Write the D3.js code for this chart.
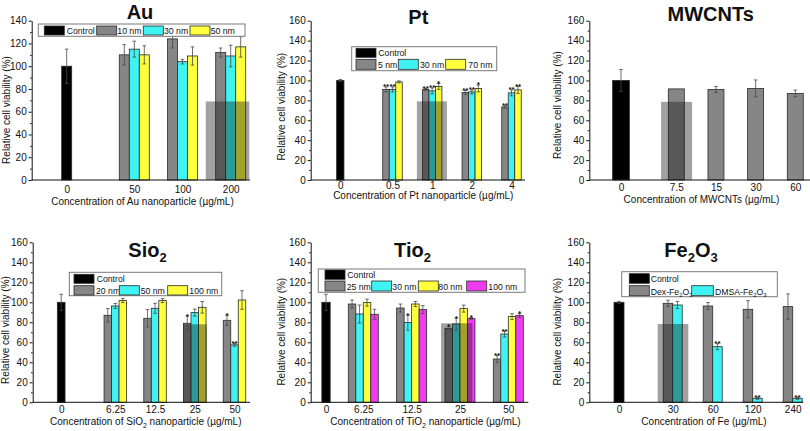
<!DOCTYPE html>
<html><head><meta charset="utf-8">
<script src="https://cdn.jsdelivr.net/npm/d3@7"></script>
<style>
body{margin:0;background:#fff}
svg{display:block}
text{font-family:"Liberation Sans",Arial,Helvetica,sans-serif;fill:#111}
</style>
</head><body>
<svg id="chart" width="810" height="431"></svg>
<script>
// ---------------- DATA ----------------
// Au
const auCategories = ["0", "50", "100", "200"];
const auSeriesNames = ["Control", "10 nm", "30 nm", "50 nm"];
const auControl = [100], auControlErr = [15];
const au10nm = [110, 124, 112], au10nmErr = [9, 8, 4];
const au30nm = [115, 104, 109], au30nmErr = [7, 2, 9.5];
const au50nm = [110, 109, 117], au50nmErr = [8, 8, 9];
const auHighlight = ["200", 69];

// Pt
const ptCategories = ["0", "0.5", "1", "2", "4"];
const ptSeriesNames = ["Control", "5 nm", "30 nm", "70 nm"];
const ptControl = [100], ptControlErr = [1];
const pt5nm = [91, 91, 88, 73.5], pt5nmErr = [2.5, 1, 2, 1.5], pt5nmSig = ["**", "**", "**", "**"];
const pt30nm = [91, 89.5, 88.5, 87.5], pt30nmErr = [2.5, 3, 2, 3], pt30nmSig = ["**", "**", "**", "**"];
const pt70nm = [98.5, 94, 92, 90.5], pt70nmErr = [1, 3, 3.5, 3.5], pt70nmSig = ["", "*", "*", "**"];
const ptHighlight = ["1", 79];

// MWCNTs
const mwCategories = ["0", "7.5", "15", "30", "60"];
const mwControl = [100], mwControlErr = [11];
const mwValues = [91.5, 91, 92, 87], mwErr = [0, 3, 8.5, 3.3];
const mwHighlight = ["7.5", 78.5];

// SiO2
const siCategories = ["0", "6.25", "12.5", "25", "50"];
const siSeriesNames = ["Control", "20 nm", "50 nm", "100 nm"];
const siControl = [100], siControlErr = [8];
const si20nm = [87, 84, 79, 82], si20nmErr = [6.7, 8.7, 7.3, 5], si20nmSig = ["", "", "*", "*"];
const si50nm = [96.3, 94, 89.7, 57.5], si50nmErr = [2.5, 5, 3.5, 1.5], si50nmSig = ["", "", "", "**"];
const si100nm = [101.7, 101.7, 95, 102.3], si100nmErr = [2, 2, 5.8, 9.3], si100nmSig = ["", "", "", ""];
const siHighlight = ["25", 78];

// TiO2
const tiCategories = ["0", "6.25", "12.5", "25", "50"];
const tiSeriesNames = ["Control", "25 nm", "30 nm", "80 nm", "100 nm"];
const tiControl = [100], tiControlErr = [8];
const ti25nm = [98.3, 94.3, 74, 43.3], ti25nmErr = [4, 4, 2, 3.3], ti25nmSig = ["", "", "*", "**"];
const ti30nm = [88.3, 79.7, 78.3, 68.3], ti30nmErr = [9, 7.5, 6, 3], ti30nmSig = ["", "*", "*", "**"];
const ti80nm = [99.7, 98.3, 93.7, 85.7], ti80nmErr = [3.5, 2.5, 3.5, 3], ti80nmSig = ["", "", "", ""];
const ti100nm = [88, 92.7, 83.7, 86.7], ti100nmErr = [5, 4, 1, 2], ti100nmSig = ["", "", "*", "*"];
const tiHighlight = ["25", 79];

// Fe2O3
const feCategories = ["0", "30", "60", "120", "240"];
const feControl = [100], feControlErr = [1];
const feDex = [99, 96.3, 93, 95.7], feDexErr = [3, 3.5, 8.7, 12.7], feDexSig = ["", "", "", ""];
const feDmsa = [97.3, 55.6, 4, 4], feDmsaErr = [3.5, 3, 1, 1], feDmsaSig = ["", "**", "**", "**"];
const feHighlight = ["30", 78.3];

const yTicks140 = [0, 20, 40, 60, 80, 100, 120, 140];
const yTicks160 = [0, 20, 40, 60, 80, 100, 120, 140, 160];

// ---------------- STYLE ----------------
const C = {control: "#000000", gray: "#868686", cyan: "#3ff3f3", yellow: "#ffff3c", magenta: "#f03cf0"};

const svg = d3.select("#chart");

function rich(sel, parts, subSize, shift) {
  let down = false;
  parts.forEach(p => {
    const isSub = Array.isArray(p);
    const t = sel.append("tspan").text(isSub ? p[0] : p);
    if (isSub) { t.attr("font-size", subSize).attr("dy", shift); down = true; }
    else if (down) { t.attr("dy", -shift); down = false; }
  });
}

function drawPanel(p) {
  const g = svg.append("g");
  const y = d3.scaleLinear().domain([0, p.yMax]).range([p.bottom, p.top]);
  const groups = p.categories.slice(1);
  const xg = d3.scalePoint().domain(groups).range([p.firstX, p.lastX]);
  const x = d3.scaleOrdinal().domain(p.categories).range([p.ctrlX, ...groups.map(d => xg(d))]);
  const xs = d3.scaleBand().domain(p.series.map(s => s.name))
    .range([-p.series.length * p.barW / 2, p.series.length * p.barW / 2]);

  // bars
  const barData = [];
  barData.push({cx: x(p.categories[0]), w: p.ctrlW, v: p.control[0], e: p.controlErr[0], color: C.control, sig: ""});
  p.series.forEach(s => {
    groups.forEach((c, i) => {
      barData.push({cx: x(c) + xs(s.name) + xs.bandwidth() / 2, w: xs.bandwidth(), v: s.values[i],
        e: s.errors[i], color: s.color, sig: s.sig ? s.sig[i] : ""});
    });
  });
  g.selectAll("rect.bar").data(barData).join("rect").attr("class", "bar")
    .attr("x", d => d.cx - d.w / 2).attr("width", d => d.w)
    .attr("y", d => y(d.v)).attr("height", d => y(0) - y(d.v))
    .attr("fill", d => d.color).attr("stroke", "#2a2a2a").attr("stroke-width", 0.8);

  // translucent highlight
  g.append("rect")
    .attr("x", x(p.highlight[0]) + p.hlDx - p.hlW / 2).attr("width", p.hlW)
    .attr("y", y(p.highlight[1])).attr("height", y(0) - y(p.highlight[1]))
    .attr("fill", "rgba(20,20,20,0.4)");

  // error bars
  const eb = barData.filter(d => d.e > 0);
  const cap = 1.8;
  const eg = g.append("g").attr("stroke", "#4a4a4a").attr("stroke-width", 0.8);
  eg.selectAll("line.v").data(eb).join("line")
    .attr("x1", d => d.cx).attr("x2", d => d.cx).attr("y1", d => y(d.v - d.e)).attr("y2", d => y(d.v + d.e));
  eg.selectAll("line.t").data(eb).join("line")
    .attr("x1", d => d.cx - cap).attr("x2", d => d.cx + cap).attr("y1", d => y(d.v + d.e)).attr("y2", d => y(d.v + d.e));
  eg.selectAll("line.b").data(eb).join("line")
    .attr("x1", d => d.cx - cap).attr("x2", d => d.cx + cap).attr("y1", d => y(d.v - d.e)).attr("y2", d => y(d.v - d.e));

  // significance stars
  g.selectAll("text.sig").data(barData.filter(d => d.sig)).join("text")
    .attr("x", d => d.cx).attr("y", d => y(d.v + d.e) + 2.5)
    .attr("text-anchor", "middle").attr("font-size", 8).attr("font-weight", "bold").text(d => d.sig);

  // y axis
  const ya = g.append("g").attr("transform", `translate(${p.left},0)`)
    .call(d3.axisLeft(y).tickValues(p.yTicks).tickSize(3).tickSizeOuter(0).tickPadding(2));
  ya.selectAll("text").attr("font-size", 10).attr("font-family", '"Liberation Sans",Arial,sans-serif').attr("fill", "#111");
  ya.select(".domain").attr("stroke", "#111");
  ya.selectAll(".tick line").attr("stroke", "#111");
  const minor = d3.range(10, p.yMax, 20);
  g.append("g").attr("transform", `translate(${p.left},0)`)
    .call(d3.axisLeft(y).tickValues(minor).tickSize(1.6).tickFormat(""))
    .call(s => s.select(".domain").remove())
    .selectAll("line").attr("stroke", "#111");

  // x axis
  const xa = g.append("g").attr("transform", `translate(0,${p.bottom})`)
    .call(d3.axisBottom(x).tickSize(0).tickPadding(p.tickPad));
  xa.select(".domain").remove();
  xa.selectAll("text").attr("font-size", 10).attr("font-family", '"Liberation Sans",Arial,sans-serif').attr("fill", "#111");
  g.append("line").attr("x1", p.left).attr("x2", p.right).attr("y1", y(0)).attr("y2", y(0))
    .attr("stroke", "#111").attr("stroke-width", 1);

  // labels
  const yl = g.append("text").attr("transform", `translate(${p.ylX},${p.ylY}) rotate(-90)`)
    .attr("text-anchor", "middle").attr("font-size", 10);
  yl.text("Relative cell viability (%)");
  const xl = g.append("text").attr("x", p.xlX).attr("y", p.xlY).attr("text-anchor", "middle").attr("font-size", 10);
  rich(xl, p.xlabel, 7, 3);
  const tl = g.append("text").attr("x", p.tX).attr("y", p.tY).attr("text-anchor", "middle")
    .attr("font-size", 20).attr("font-weight", "bold");
  rich(tl, p.title, 13, 5);

  // legend
  if (p.legend) {
    const L = p.legend;
    const lg = g.append("g");
    lg.append("rect").attr("x", L.box[0]).attr("y", L.box[1]).attr("width", L.box[2]).attr("height", L.box[3])
      .attr("fill", "#fff").attr("stroke", "#7a7a7a").attr("stroke-width", 1);
    const items = [{label: [p.legendNames[0]], color: C.control}]
      .concat(p.series.map((s, i) => ({label: s.label || [p.legendNames[i + 1]], color: s.color})));
    items.forEach((it, i) => {
      const [sx, sy, sw, sh, tx] = L.items[i];
      lg.append("rect").attr("x", sx).attr("y", sy).attr("width", sw).attr("height", sh)
        .attr("fill", it.color).attr("stroke", "#2a2a2a").attr("stroke-width", 0.8);
      const t = lg.append("text").attr("x", tx).attr("y", sy + sh - 1.2).attr("font-size", 8.7);
      rich(t, it.label, 6, 2.5);
    });
  }
}

// ---------------- PANELS ----------------
drawPanel({
  categories: auCategories, control: auControl, controlErr: auControlErr, highlight: auHighlight,
  series: [
    {name: auSeriesNames[1], color: C.gray, values: au10nm, errors: au10nmErr},
    {name: auSeriesNames[2], color: C.cyan, values: au30nm, errors: au30nmErr},
    {name: auSeriesNames[3], color: C.yellow, values: au50nm, errors: au50nmErr}],
  legendNames: auSeriesNames,
  yMax: 140, yTicks: yTicks140, top: 20.7, bottom: 180, left: 31.7, right: 250,
  ctrlX: 66.7, firstX: 134.3, lastX: 230.7, barW: 10, ctrlW: 10, hlW: 43.5, hlDx: -3.2, tickPad: 6,
  ylX: 9.7, ylY: 110, xlX: 142.5, xlY: 205, tX: 140, tY: 19,
  xlabel: ["Concentration of Au nanoparticle (µg/mL)"], title: ["Au"],
  legend: {box: [38.3, 24, 206.7, 12.3], items: [[44.3, 26, 20, 9, 66.7], [96.7, 26, 20, 9, 117.3], [143.3, 26, 20, 9, 164], [190, 26, 20, 9, 210.7]]}
});

drawPanel({
  categories: ptCategories, control: ptControl, controlErr: ptControlErr, highlight: ptHighlight,
  series: [
    {name: ptSeriesNames[1], color: C.gray, values: pt5nm, errors: pt5nmErr, sig: pt5nmSig},
    {name: ptSeriesNames[2], color: C.cyan, values: pt30nm, errors: pt30nmErr, sig: pt30nmSig},
    {name: ptSeriesNames[3], color: C.yellow, values: pt70nm, errors: pt70nmErr, sig: pt70nmSig}],
  legendNames: ptSeriesNames,
  yMax: 160, yTicks: yTicks160, top: 20.7, bottom: 180, left: 310.7, right: 525,
  ctrlX: 340.3, firstX: 392.5, lastX: 511.5, barW: 6.5, ctrlW: 7.3, hlW: 30, hlDx: -0.3, tickPad: 1.4,
  ylX: 285.3, ylY: 106.7, xlX: 423.3, xlY: 199, tX: 418.3, tY: 24,
  xlabel: ["Concentration of Pt nanoparticle (µg/mL)"], title: ["Pt"],
  legend: {box: [351.7, 46.7, 145, 24], items: [[356, 48.3, 20, 9, 378.3], [356, 59.3, 20, 10, 378], [398.3, 59.3, 20, 10, 420], [445.7, 59.3, 20, 10, 468.3]]}
});

drawPanel({
  categories: mwCategories, control: mwControl, controlErr: mwControlErr, highlight: mwHighlight,
  series: [{name: "MWCNTs", color: C.gray, values: mwValues, errors: mwErr}],
  legendNames: ["Control", "MWCNTs"],
  yMax: 160, yTicks: yTicks160, top: 20.7, bottom: 180, left: 589.3, right: 810,
  ctrlX: 621, firstX: 676.3, lastX: 795.3, barW: 16, ctrlW: 16.7, hlW: 31, hlDx: 0.3, tickPad: 3.6,
  ylX: 561, ylY: 105, xlX: 701.5, xlY: 203, tX: 710.7, tY: 21,
  xlabel: ["Concentration of MWCNTs (µg/mL)"], title: ["MWCNTs"], legend: null
});

drawPanel({
  categories: siCategories, control: siControl, controlErr: siControlErr, highlight: siHighlight,
  series: [
    {name: siSeriesNames[1], color: C.gray, values: si20nm, errors: si20nmErr, sig: si20nmSig},
    {name: siSeriesNames[2], color: C.cyan, values: si50nm, errors: si50nmErr, sig: si50nmSig},
    {name: siSeriesNames[3], color: C.yellow, values: si100nm, errors: si100nmErr, sig: si100nmSig}],
  legendNames: siSeriesNames,
  yMax: 160, yTicks: yTicks160, top: 242.3, bottom: 402.3, left: 32.7, right: 250,
  ctrlX: 61.2, firstX: 115.3, lastX: 234.5, barW: 7.5, ctrlW: 7.7, hlW: 24, hlDx: 0.3, tickPad: 3.2,
  ylX: 8.7, ylY: 330, xlX: 145.8, xlY: 424.5, tX: 147.5, tY: 256.7,
  xlabel: ["Concentration of SiO", ["2"], " nanoparticle (µg/mL)"], title: ["Sio", ["2"]],
  legend: {box: [69.3, 272.3, 152.4, 23.4], items: [[74, 274.3, 20, 9, 96.7], [74, 285.7, 20, 9.3, 96], [119.3, 285.7, 20, 9.3, 140.7], [167.7, 285.7, 20, 9.3, 189.3]]}
});

drawPanel({
  categories: tiCategories, control: tiControl, controlErr: tiControlErr, highlight: tiHighlight,
  series: [
    {name: tiSeriesNames[1], color: C.gray, values: ti25nm, errors: ti25nmErr, sig: ti25nmSig},
    {name: tiSeriesNames[2], color: C.cyan, values: ti30nm, errors: ti30nmErr, sig: ti30nmSig},
    {name: tiSeriesNames[3], color: C.yellow, values: ti80nm, errors: ti80nmErr, sig: ti80nmSig},
    {name: tiSeriesNames[4], color: C.magenta, values: ti100nm, errors: ti100nmErr, sig: ti100nmSig}],
  legendNames: tiSeriesNames,
  yMax: 160, yTicks: yTicks160, top: 242.3, bottom: 402.3, left: 310.7, right: 528.3,
  ctrlX: 326, firstX: 363.3, lastX: 508.3, barW: 7.5, ctrlW: 8.3, hlW: 31.3, hlDx: -3.3, tickPad: 3.2,
  ylX: 285.3, ylY: 331.7, xlX: 425.5, xlY: 424.5, tX: 412.5, tY: 256.7,
  xlabel: ["Concentration of TiO", ["2"], " nanoparticle (µg/mL)"], title: ["Tio", ["2"]],
  legend: {box: [318.3, 269, 206.7, 23.3], items: [[325, 270, 20, 9.3, 347.3], [325, 281, 20, 10, 346.7], [371.7, 281, 20, 10, 392.3], [418.3, 281, 20, 10, 438.3], [466.7, 281, 20, 10, 488.3]]}
});

drawPanel({
  categories: feCategories, control: feControl, controlErr: feControlErr, highlight: feHighlight,
  series: [
    {name: "Dex", label: ["Dex-Fe", ["2"], "O", ["3"]], color: C.gray, values: feDex, errors: feDexErr, sig: feDexSig},
    {name: "DMSA", label: ["DMSA-Fe", ["2"], "O", ["3"]], color: C.cyan, values: feDmsa, errors: feDmsaErr, sig: feDmsaSig}],
  legendNames: ["Control"],
  yMax: 160, yTicks: yTicks160, top: 242.3, bottom: 402.3, left: 589.3, right: 803.3,
  ctrlX: 619, firstX: 672.7, lastX: 792.7, barW: 9.5, ctrlW: 10, hlW: 30.6, hlDx: 0.3, tickPad: 3.2,
  ylX: 561, ylY: 331.7, xlX: 704, xlY: 424.5, tX: 691, tY: 256.7,
  xlabel: ["Concentration of Fe (µg/mL)"], title: ["Fe", ["2"], "O", ["3"]],
  legend: {box: [621.7, 271.7, 155.6, 25], items: [[629.3, 273.7, 20, 9.6, 650.7], [629.3, 285.7, 20, 10, 650.7], [691.7, 285.7, 21.6, 10, 715]]}
});
</script>
</body></html>
